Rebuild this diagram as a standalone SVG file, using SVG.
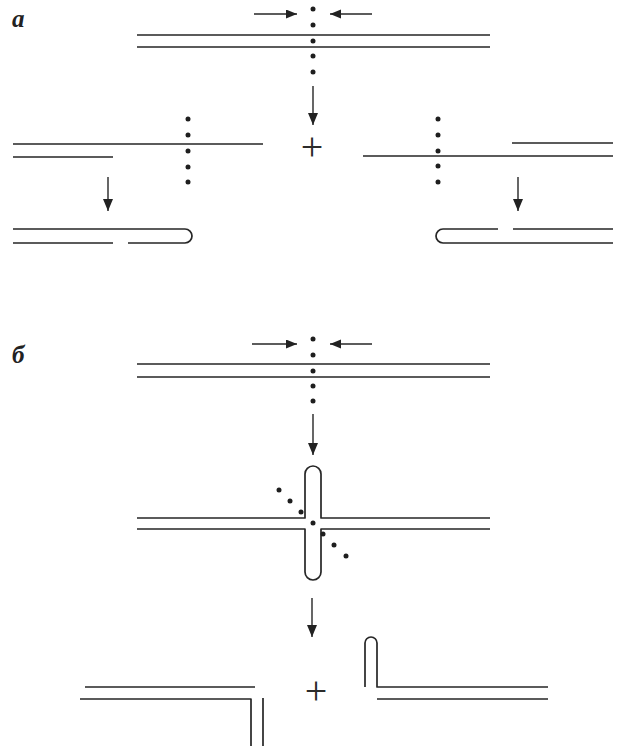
<svg xmlns="http://www.w3.org/2000/svg" width="620" height="746" viewBox="0 0 620 746">
<defs>
<style>
.s{fill:none;stroke:#262626;stroke-width:1.7;stroke-linecap:butt;stroke-linejoin:round}
.a{fill:none;stroke:#262626;stroke-width:1.4}
.d{fill:#1e1e1e}
.lbl{font-family:"Liberation Serif",serif;font-weight:bold;font-style:italic;font-size:25px;fill:#222}
.plus{font-family:"Liberation Serif",serif;font-size:40px;fill:#2b2b2b}
</style>
<marker id="hv" markerUnits="userSpaceOnUse" markerWidth="12" markerHeight="12" refX="12" refY="5" orient="auto">
<path d="M0,0 L12,5 L0,10 z" fill="#222"/>
</marker>
<marker id="hh" markerUnits="userSpaceOnUse" markerWidth="12" markerHeight="10" refX="11" refY="4.5" orient="auto">
<path d="M0,0 L11,4.5 L0,9 z" fill="#222"/>
</marker>
</defs>
<rect width="620" height="746" fill="#fff"/>

<text class="lbl" x="12" y="27">а</text>
<text class="lbl" x="12" y="363">б</text>

<!-- Panel a -->
<g id="a-duplex">
<path class="s" d="M137 35 H490 M137 47 H490"/>
</g>
<g id="a-cut-dots" class="d">
<circle cx="313" cy="9" r="2.5"/><circle cx="313" cy="25" r="2.5"/><circle cx="313" cy="41" r="2.5"/><circle cx="313" cy="56" r="2.5"/><circle cx="313" cy="72" r="2.5"/>
</g>
<g id="a-left-frag">
<path class="s" d="M13 144 H263 M13 157 H113"/>
</g>
<g id="a-left-dots" class="d">
<circle cx="188" cy="119" r="2.5"/><circle cx="188" cy="135" r="2.5"/><circle cx="188" cy="151" r="2.5"/><circle cx="188" cy="167" r="2.5"/><circle cx="188" cy="182" r="2.5"/>
</g>
<g id="a-right-frag">
<path class="s" d="M363 156 H613 M512 143 H613"/>
</g>
<g id="a-right-dots" class="d">
<circle cx="438" cy="119" r="2.5"/><circle cx="438" cy="135" r="2.5"/><circle cx="438" cy="151" r="2.5"/><circle cx="438" cy="166" r="2.5"/><circle cx="438" cy="182" r="2.5"/>
</g>
<g id="a-plus">
<text class="plus" x="312" y="160" text-anchor="middle">+</text>
</g>
<g id="a-left-hairpin">
<path class="s" d="M13 243 H113 M128 243 H185 A7 7 0 0 0 185 229 H13"/>
</g>
<g id="a-right-hairpin">
<path class="s" d="M498 229 H443 A7 7 0 0 0 443 243 H613 M513 229 H613"/>
</g>

<!-- Panel b -->
<g id="b-duplex">
<path class="s" d="M137 364 H490 M137 377 H490"/>
</g>
<g id="b-cut-dots" class="d">
<circle cx="313" cy="339" r="2.5"/><circle cx="313" cy="355" r="2.5"/><circle cx="313" cy="371" r="2.5"/><circle cx="313" cy="386" r="2.5"/><circle cx="313" cy="401" r="2.5"/>
</g>
<g id="b-cruciform">
<path class="s" d="M137 518 H305 V474 A8 8 0 0 1 321 474 V518 H490"/>
<path class="s" d="M137 529 H305 V572 A8 8 0 0 0 321 572 V529 H490"/>
</g>
<g id="b-diag-dots" class="d">
<circle cx="279" cy="490" r="2.5"/><circle cx="290" cy="501" r="2.5"/><circle cx="301" cy="512" r="2.5"/><circle cx="313" cy="523" r="2.5"/><circle cx="323" cy="534" r="2.5"/><circle cx="334" cy="545" r="2.5"/><circle cx="346" cy="556" r="2.5"/>
</g>
<g id="b-left-product">
<path class="s" d="M85 687 H255 M80 699 H251 V746 M263 698 V746"/>
</g>
<g id="b-plus">
<text class="plus" x="316" y="704" text-anchor="middle">+</text>
</g>
<g id="b-right-product">
<path class="s" d="M365 687 V643 A6 6 0 0 1 377 643 V687 H548 M377 699 H548"/>
</g>

<g id="connectors">
<line class="a" x1="254" y1="14" x2="297" y2="14" marker-end="url(#hh)"/>
<line class="a" x1="372" y1="14" x2="330" y2="14" marker-end="url(#hh)"/>
<line class="a" x1="313" y1="86" x2="313" y2="125" marker-end="url(#hv)"/>
<line class="a" x1="108" y1="177" x2="108" y2="211" marker-end="url(#hv)"/>
<line class="a" x1="518" y1="177" x2="518" y2="211" marker-end="url(#hv)"/>
<line class="a" x1="252" y1="344" x2="297" y2="344" marker-end="url(#hh)"/>
<line class="a" x1="372" y1="344" x2="330" y2="344" marker-end="url(#hh)"/>
<line class="a" x1="313" y1="414" x2="313" y2="455" marker-end="url(#hv)"/>
<line class="a" x1="312" y1="598" x2="312" y2="637" marker-end="url(#hv)"/>
</g>
</svg>
